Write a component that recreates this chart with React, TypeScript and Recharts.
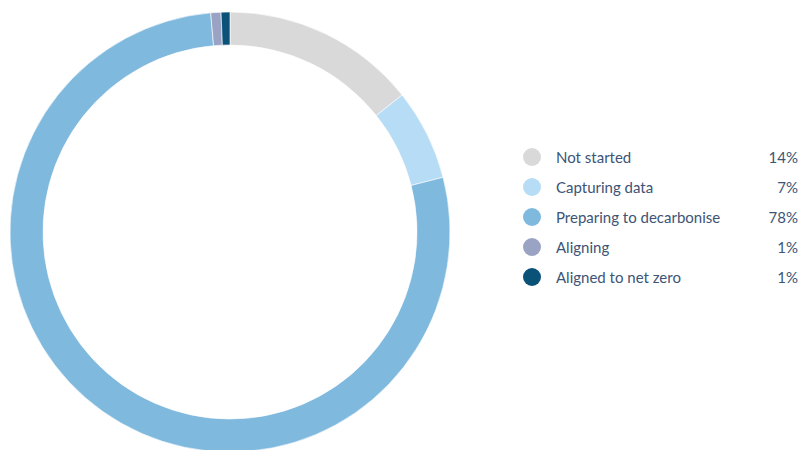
import { PieChart, Pie, Cell, Legend } from 'recharts';

const categories = ['Not started', 'Capturing data', 'Preparing to decarbonise', 'Aligning', 'Aligned to net zero'];
const shares = [14.3, 6.7, 77.6, 0.75, 0.65];
const shareLabels = ['14%', '7%', '78%', '1%', '1%'];
const COLORS = ['#d9d9d9', '#b7dcf5', '#80b9de', '#9aa3c3', '#0b5279'];

const data = categories.map((name, i) => ({ name, value: shares[i] }));

const TEXT = '#3d5475';

function LegendRows() {
    return (
        <div style={{ fontFamily: 'Lato, sans-serif', fontSize: 15, fontWeight: 400, color: TEXT }}>
            {categories.map((name, i) => (
                <div key={name} style={{ display: 'flex', alignItems: 'center', height: 30 }}>
                    <span
                        style={{
                            width: 18,
                            height: 18,
                            borderRadius: '50%',
                            background: COLORS[i],
                            display: 'inline-block',
                            marginRight: 15,
                        }}
                    />
                    <span style={{ flex: 1 }}>{name}</span>
                    <span>{shareLabels[i]}</span>
                </div>
            ))}
        </div>
    );
}

export default function App() {
    return (
        <div style={{ position: 'absolute', left: 0, top: 0, width: 799, height: 450, background: '#fff' }}>
            <PieChart width={799} height={450} margin={{ top: 0, right: 0, bottom: 0, left: 0 }}>
                <Pie
                    data={data}
                    dataKey="value"
                    nameKey="name"
                    cx={230}
                    cy={232}
                    outerRadius={220}
                    innerRadius={187}
                    startAngle={90}
                    endAngle={-270}
                    stroke="#ffffff"
                    strokeWidth={0.6}
                    isAnimationActive={false}
                >
                    {data.map((entry, i) => (
                        <Cell key={`cell-${i}`} fill={COLORS[i]} />
                    ))}
                </Pie>
                <Legend
                    layout="vertical"
                    content={() => <LegendRows />}
                    wrapperStyle={{ position: 'absolute', left: 523, top: 142, width: 275 }}
                />
            </PieChart>
        </div>
    );
}
